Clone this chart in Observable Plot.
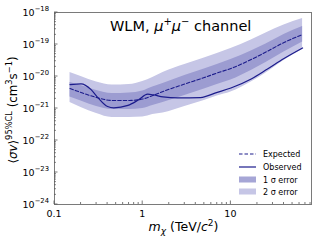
<!DOCTYPE html>
<html><head><meta charset="utf-8">
<script src="https://cdn.jsdelivr.net/npm/d3@7"></script>
<script src="https://cdn.jsdelivr.net/npm/@observablehq/plot@0.6"></script>
<style>body{margin:0;background:#fff}</style>
</head><body><div id="c"></div>
<script>
// Expected limit and bands (cm^3 s^-1) vs dark-matter mass (TeV/c^2)
const mass      = [0.15, 0.2, 0.3, 0.45, 0.7, 1.0, 1.3, 1.7, 3, 5, 7, 10, 17, 25, 40, 65];
const expected  = [4.22e-21, 3.16e-21, 2.21e-21, 1.78e-21, 1.78e-21, 1.98e-21, 2.55e-21, 3.4e-21, 5.83e-21, 9.3e-21, 1.29e-20, 1.78e-20, 3.4e-20, 5.83e-20, 1.155e-19, 2.05e-19];
const sigma2Hi  = [1.33e-20, 1.0e-20, 6.73e-21, 5.42e-21, 5.62e-21, 6.98e-21, 9.3e-21, 1.33e-20, 2.37e-20, 3.78e-20, 5.23e-20, 7.5e-20, 1.38e-19, 2.29e-19, 4.07e-19, 6.49e-19];
const sigma1Hi  = [6.49e-21, 5.23e-21, 3.65e-21, 2.94e-21, 3.05e-21, 3.52e-21, 4.7e-21, 6.04e-21, 1.07e-20, 1.71e-20, 2.37e-20, 3.4e-20, 6.26e-20, 1.04e-19, 2.05e-19, 3.65e-19];
const sigma1Lo  = [2.29e-21, 1.71e-21, 1.155e-21, 9.3e-22, 9.3e-22, 1.0e-21, 1.24e-21, 1.54e-21, 2.55e-21, 4.07e-21, 5.62e-21, 7.78e-21, 1.54e-20, 2.74e-20, 5.83e-20, 1.2e-19];
const sigma2Lo  = [1.54e-21, 1.07e-21, 6.98e-22, 5.23e-22, 5.23e-22, 5.42e-22, 6.49e-22, 7.23e-22, 1.155e-21, 1.78e-21, 2.46e-21, 3.28e-21, 6.73e-21, 1.29e-20, 3.16e-20, 6.98e-20];
// Observed limit
const obsMass   = [0.15, 0.2, 0.26, 0.31, 0.4, 0.47, 0.68, 0.88, 1.14, 1.33, 1.7, 2.5, 4.5, 7, 10, 17, 26, 40, 65];
const observed  = [5.6e-21, 5.9e-21, 3.9e-21, 2.2e-21, 1.15e-21, 1.05e-21, 1.25e-21, 1.8e-21, 2.8e-21, 2.65e-21, 2.3e-21, 2.15e-21, 2.2e-21, 3.2e-21, 4.37e-21, 8.35e-21, 1.71e-20, 3.65e-20, 7.78e-20];
// Axes
const xTicks = [0.1, 1, 10];
const xTickLabels = ["0.1", "1", "10"];
const yExponents = [-24, -23, -22, -21, -20, -19, -18];
const legendLabels = ["Expected", "Observed", "1 \u03c3 error", "2 \u03c3 error"];

const bands = mass.map((m, i) => ({m, e: expected[i], lo1: sigma1Lo[i], hi1: sigma1Hi[i], lo2: sigma2Lo[i], hi2: sigma2Hi[i]}));
const obs = obsMass.map((m, i) => ({m, v: observed[i]}));

const lineColor = "#1c1c8c";
const light = "#c6c6e6", dark = "#9c9cd1";

const chart = Plot.plot({
  width: 320, height: 240,
  marginLeft: 54, marginRight: 9, marginTop: 12, marginBottom: 36,
  style: {fontFamily: "DejaVu Sans", fontSize: "9.5px", background: "white", color: "black"},
  x: {type: "log", domain: [0.1, 82], axis: null},
  y: {type: "log", domain: [1e-24, 1e-18], axis: null},
  marks: [
    Plot.areaY(bands, {x: "m", y1: "lo2", y2: "hi2", fill: light, curve: "monotone-x"}),
    Plot.areaY(bands, {x: "m", y1: "lo1", y2: "hi1", fill: dark, curve: "monotone-x"}),
    Plot.line(bands, {x: "m", y: "e", stroke: lineColor, strokeWidth: 1.1, strokeDasharray: "3.5,2", curve: "monotone-x"}),
    Plot.line(obs, {x: "m", y: "v", stroke: lineColor, strokeWidth: 1.2, curve: "monotone-x"}),
    Plot.frame({stroke: "#7a7a7a", strokeWidth: 1})
  ]
});
document.getElementById("c").appendChild(chart);

const sx = chart.scale("x"), sy = chart.scale("y");
const X = v => sx.apply(v), Y = v => sy.apply(v);
const svg = d3.select(chart);
const g = svg.append("g").attr("font-family", "DejaVu Sans").attr("fill", "black").attr("text-anchor", "start");
const x0 = X(0.1), yb = Y(1e-24);

// x ticks (inward)
for (let k = -1; k <= 1; k++) {
  for (let j = 1; j <= 9; j++) {
    const v = j * Math.pow(10, k);
    if (v > 82) continue;
    const len = j === 1 ? 3.5 : 2;
    g.append("line").attr("x1", X(v)).attr("x2", X(v)).attr("y1", yb).attr("y2", yb - len)
      .attr("stroke", "#555").attr("stroke-width", 0.8);
  }
}
xTicks.forEach((v, i) => {
  g.append("text").attr("x", X(v)).attr("y", yb + 12.5).attr("text-anchor", "middle")
    .attr("font-size", 9.5).text(xTickLabels[i]);
});
// y ticks
yExponents.forEach(e => {
  const v = Math.pow(10, e);
  g.append("line").attr("x1", x0).attr("x2", x0 + 3.5).attr("y1", Y(v)).attr("y2", Y(v))
    .attr("stroke", "#555").attr("stroke-width", 0.8);
  if (e < -18) for (let j = 2; j <= 9; j++) {
    const w = j * v;
    g.append("line").attr("x1", x0).attr("x2", x0 + 2).attr("y1", Y(w)).attr("y2", Y(w))
      .attr("stroke", "#555").attr("stroke-width", 0.7);
  }
  const t = g.append("text").attr("x", x0 - 5).attr("y", Y(v) + 3.5).attr("text-anchor", "end").attr("font-size", 9.5);
  t.append("tspan").text("10");
  t.append("tspan").attr("font-size", 6.8).attr("dy", -4.5).text("\u2212" + (-e));
});

// title
const tt = g.append("text").attr("x", 110).attr("y", 31).attr("font-size", 14.5).attr("text-anchor", "start");
tt.append("tspan").text("WLM, ");
tt.append("tspan").attr("font-style", "italic").text("\u03bc");
tt.append("tspan").attr("font-size", 10).attr("dy", -6).text("+");
tt.append("tspan").attr("font-style", "italic").attr("dy", 6).text("\u03bc");
tt.append("tspan").attr("font-size", 10).attr("dy", -6).text("\u2212");
tt.append("tspan").attr("dy", 6).text(" channel");

// x label
const xl = g.append("text").attr("x", 183.5).attr("y", 231).attr("text-anchor", "middle").attr("font-size", 12.5);
xl.append("tspan").attr("font-style", "italic").text("m");
xl.append("tspan").attr("font-style", "italic").attr("font-size", 9).attr("dy", 3).text("\u03c7");
xl.append("tspan").attr("dy", -3).text(" (TeV/");
xl.append("tspan").attr("font-style", "italic").text("c");
xl.append("tspan").attr("font-size", 9).attr("dy", -5).text("2");
xl.append("tspan").attr("dy", 5).text(")");

// y label
const yl = g.append("text").attr("transform", "translate(17,110) rotate(-90)").attr("text-anchor", "middle").attr("font-size", 11.8);
yl.append("tspan").text("\u27e8");
yl.append("tspan").attr("font-style", "italic").text("\u03c3v");
yl.append("tspan").text("\u27e9");
yl.append("tspan").attr("font-size", 8.3).attr("dy", -5.5).text("95%CL");
yl.append("tspan").attr("dy", 5.5).text(" (cm");
yl.append("tspan").attr("font-size", 8.3).attr("dy", -5.5).text("3");
yl.append("tspan").attr("dy", 5.5).text("s");
yl.append("tspan").attr("font-size", 8.3).attr("dy", -5.5).text("\u22121");
yl.append("tspan").attr("dy", 5.5).text(")");

// legend
const lx = 239, lw = 17, tx = 263, rows = [154, 167, 179.5, 191.5];
g.append("line").attr("x1", lx).attr("x2", lx + lw).attr("y1", rows[0]).attr("y2", rows[0])
  .attr("stroke", lineColor).attr("stroke-width", 1.1).attr("stroke-dasharray", "3.5,2");
g.append("line").attr("x1", lx).attr("x2", lx + lw).attr("y1", rows[1]).attr("y2", rows[1])
  .attr("stroke", lineColor).attr("stroke-width", 1.2);
g.append("rect").attr("x", lx).attr("y", rows[2] - 3).attr("width", lw).attr("height", 6).attr("fill", "#a6a6d6");
g.append("rect").attr("x", lx).attr("y", rows[3] - 3).attr("width", lw).attr("height", 6).attr("fill", light);
legendLabels.forEach((s, i) => {
  g.append("text").attr("x", tx).attr("y", rows[i] + 3).attr("font-size", 8).attr("text-anchor", "start").text(s);
});
</script>
</body></html>
